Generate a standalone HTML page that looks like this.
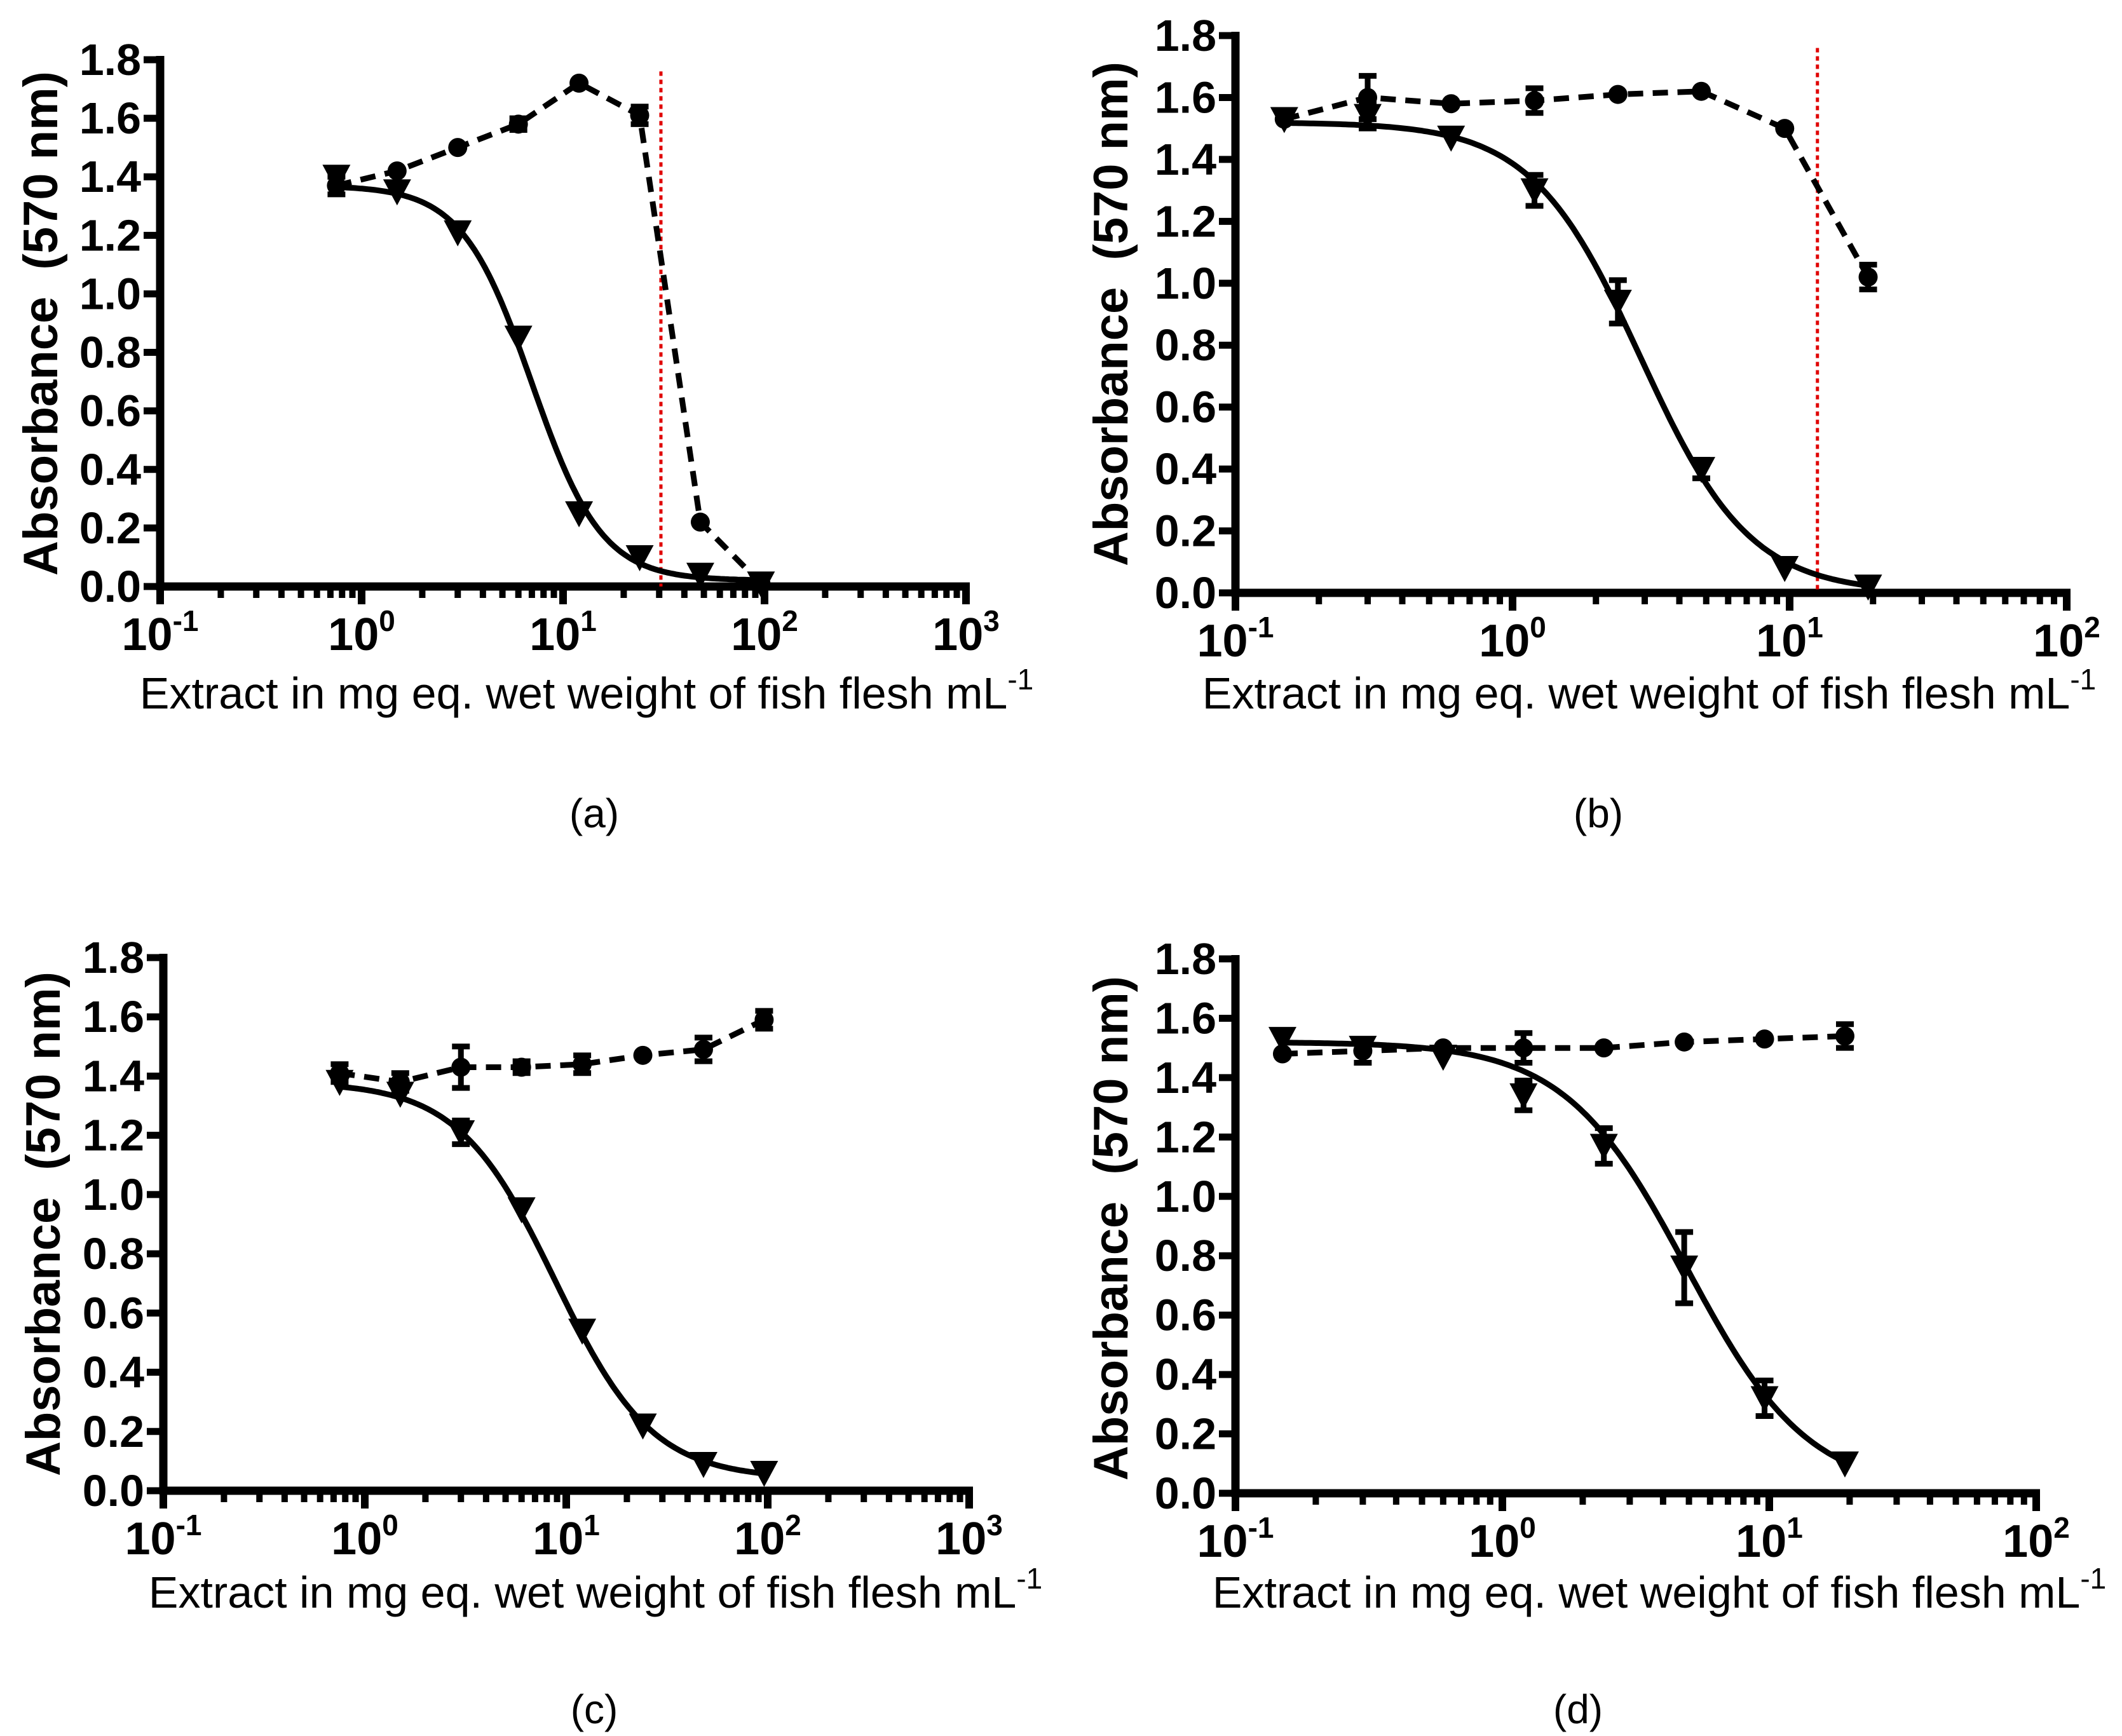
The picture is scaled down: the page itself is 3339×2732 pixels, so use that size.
<!DOCTYPE html>
<html><head><meta charset="utf-8">
<style>
html,body{margin:0;padding:0;background:#fff;}
svg{display:block;}
text{font-family:"Liberation Sans",Arial,sans-serif;fill:#000;}
</style></head>
<body>
<svg id="fig" width="3339" height="2732" viewBox="0 0 3339 2732" xmlns="http://www.w3.org/2000/svg"></svg>
<script>
// ---- data (panel a) ----
const xA = [0.75,1.5,3,6,12,24,48,96];
const triA = [1.40,1.35,1.21,0.85,0.25,0.10,0.04,0.01];
const cirA = [1.37,1.42,1.50,1.58,1.72,1.61,0.22,0.01];
const cirErrA = [0.03,0,0,0.02,0,0.03,0,0];
const triErrA = [0,0,0,0,0,0,0,0];
const fitA = [1.37,0.02,7.0,2.5];
const redA = [30.6];
// ---- data (panel b) ----
const xB = [0.15,0.3,0.6,1.2,2.4,4.8,9.6,19.2];
const triB = [1.53,1.54,1.47,1.30,0.94,0.40,0.08,0.02];
const cirB = [1.53,1.60,1.58,1.59,1.61,1.62,1.50,1.02];
const cirErrB = [0,0.07,0,0.04,0,0,0,0.04];
const triErrB = [0,0.04,0,0.05,0.07,0.03,0,0];
const fitB = [1.52,0.0,2.9,2.2];
const redB = [12.6];
// ---- data (panel c) ----
const xC = [0.75,1.5,3,6,12,24,48,96];
const triC = [1.38,1.34,1.21,0.95,0.54,0.22,0.09,0.06];
const cirC = [1.41,1.38,1.43,1.43,1.44,1.47,1.49,1.59];
const cirErrC = [0.03,0.03,0.07,0.02,0.03,0,0.04,0.03];
const triErrC = [0,0,0.04,0,0,0,0,0];
const fitC = [1.38,0.04,8.8,1.8];
// ---- data (panel d) ----
const xD = [0.15,0.3,0.6,1.2,2.4,4.8,9.6,19.2];
const triD = [1.53,1.50,1.47,1.34,1.17,0.76,0.32,0.10];
const cirD = [1.48,1.49,1.50,1.50,1.50,1.52,1.53,1.54];
const cirErrD = [0,0.04,0,0.05,0,0,0,0.04];
const triErrD = [0,0,0,0.05,0.06,0.12,0.06,0];
const fitD = [1.52,0.0,4.9,1.9];
const yTicks = ['0.0','0.2','0.4','0.6','0.8','1.0','1.2','1.4','1.6','1.8'];

const NS='http://www.w3.org/2000/svg';
const svg=document.getElementById('fig');
function mk(tag,attrs,parent){const e=document.createElementNS(NS,tag);for(const k in attrs)e.setAttribute(k,attrs[k]);(parent||svg).appendChild(e);return e;}

function panel(cfg){
  const g=mk('g',{});
  
  
  const X=v=>cfg.x0+(Math.log10(v)-cfg.lmin)*cfg.dec;
  const Y=v=>cfg.y0-(v/1.8)*(cfg.y0-cfg.y18);
  const xEnd=cfg.x0+(cfg.lmax-cfg.lmin)*cfg.dec;
  yTicks.forEach((t,i)=>{
    const v=parseFloat(t),y=Y(v);
    const tk=mk('line',{x1:cfg.x0-26,x2:cfg.x0,y1:y,y2:y,stroke:'#000','stroke-width':11},g);
    
    
    const tx=mk('text',{x:cfg.x0-30,y:y+24,'text-anchor':'end','font-size':70,'font-weight':'bold'},g);
    tx.textContent=t;
    
    
  });
  for(let d=cfg.lmin;d<=cfg.lmax;d++){
    const x=X(Math.pow(10,d));
    const tk=mk('line',{x1:x,x2:x,y1:cfg.y0,y2:cfg.y0+28,stroke:'#000','stroke-width':12},g);
    
    
    const tx=mk('text',{x:x,y:cfg.y0+100,'text-anchor':'middle','font-size':72,'font-weight':'bold'},g);
    
    
    tx.innerHTML='10<tspan dy="-30" font-size="46">'+d+'</tspan>';
    if(d<cfg.lmax){
      for(let m=2;m<=9;m++){
        const xm=X(m*Math.pow(10,d));
        const mt=mk('line',{x1:xm,x2:xm,y1:cfg.y0,y2:cfg.y0+18,stroke:'#000','stroke-width':10},g);
        
        
      }
    }
  }
  const ya=mk('line',{x1:cfg.x0,x2:cfg.x0,y1:cfg.y18-6,y2:cfg.y0+6,stroke:'#000','stroke-width':13},g);
  
  
  const xa=mk('line',{x1:cfg.x0-6,x2:xEnd+6,y1:cfg.y0,y2:cfg.y0,stroke:'#000','stroke-width':13},g);
  
  
  if(cfg.red){
    const r=mk('line',{x1:X(cfg.red[0]),x2:X(cfg.red[0]),y1:Y(1.76),y2:cfg.y0,stroke:'#e00000','stroke-width':5,'stroke-dasharray':'7 6'},g);
    
    
  }
  const [top,bot,ec,h]=cfg.fit;
  let d='';const l0=Math.log10(cfg.xs[0]),l1=Math.log10(cfg.xs[cfg.xs.length-1]);
  for(let i=0;i<=200;i++){const l=l0+(l1-l0)*i/200,v=Math.pow(10,l);const yv=bot+(top-bot)/(1+Math.pow(v/ec,h));d+=(i?'L':'M')+X(v).toFixed(1)+' '+Y(yv).toFixed(1);}
  const fc=mk('path',{d:d,fill:'none',stroke:'#000','stroke-width':9},g);
  
  
  let dd='';cfg.xs.forEach((v,i)=>{dd+=(i?'L':'M')+X(v).toFixed(1)+' '+Y(cfg.cir[i]).toFixed(1);});
  const dl=mk('path',{d:dd,fill:'none',stroke:'#000','stroke-width':9,'stroke-dasharray':'24 15'},g);
  
  
  function err(x,v,e){ if(!e) return; const eb=mk('path',{d:`M${x} ${Y(v-e)}V${Y(v+e)}M${x-14} ${Y(v-e)}h28M${x-14} ${Y(v+e)}h28`,stroke:'#000','stroke-width':9,fill:'none'},g);
    
    }
  cfg.xs.forEach((v,i)=>{
    const x=X(v);
    err(x,cfg.tri[i],cfg.triErr[i]);
    err(x,cfg.cir[i],cfg.cirErr[i]);
    const y=Y(cfg.tri[i]);
    const t=mk('path',{d:`M${x-22} ${y-19}L${x+22} ${y-19}L${x} ${y+22}Z`,fill:'#000'},g);
    
    
    const c=mk('circle',{cx:x,cy:Y(cfg.cir[i]),r:15,fill:'#000'},g);
    
    
  });
  const yt=mk('text',{x:cfg.ytx,y:cfg.yty,'text-anchor':'middle','font-size':76,'font-weight':'bold',transform:`rotate(-90 ${cfg.ytx} ${cfg.yty})`},g);
  yt.textContent='Absorbance\u00a0 (570 nm)';
  
  
  const xt=mk('text',{x:cfg.xtx,y:cfg.xty,'text-anchor':'middle','font-size':70},g);
  xt.innerHTML='Extract in mg eq. wet weight of fish flesh mL<tspan dy="-30" font-size="46">-1</tspan>';
  
  
  const pl=mk('text',{x:cfg.lx,y:cfg.ly,'text-anchor':'middle','font-size':64},g);
  pl.textContent='('+cfg.id+')';
  
  
}
panel({id:'a',x0:252,dec:317,lmin:-1,lmax:3,y0:923,y18:94,xs:xA,tri:triA,cir:cirA,triErr:triErrA,cirErr:cirErrA,fit:fitA,red:redA,ytx:90,yty:509,xtx:923,xty:1115,lx:935,ly:1302});
panel({id:'b',x0:1944,dec:436,lmin:-1,lmax:2,y0:933,y18:56,xs:xB,tri:triB,cir:cirB,triErr:triErrB,cirErr:cirErrB,fit:fitB,red:redB,ytx:1774,yty:494,xtx:2595,xty:1115,lx:2515,ly:1302});
panel({id:'c',x0:257,dec:317,lmin:-1,lmax:3,y0:2346,y18:1507,xs:xC,tri:triC,cir:cirC,triErr:triErrC,cirErr:cirErrC,fit:fitC,ytx:94,yty:1926,xtx:937,xty:2530,lx:935,ly:2712});
panel({id:'d',x0:1944,dec:420,lmin:-1,lmax:2,y0:2350,y18:1509,xs:xD,tri:triD,cir:cirD,triErr:triErrD,cirErr:cirErrD,fit:fitD,ytx:1774,yty:1933,xtx:2611,xty:2530,lx:2483,ly:2712});
</script>
</body></html>
